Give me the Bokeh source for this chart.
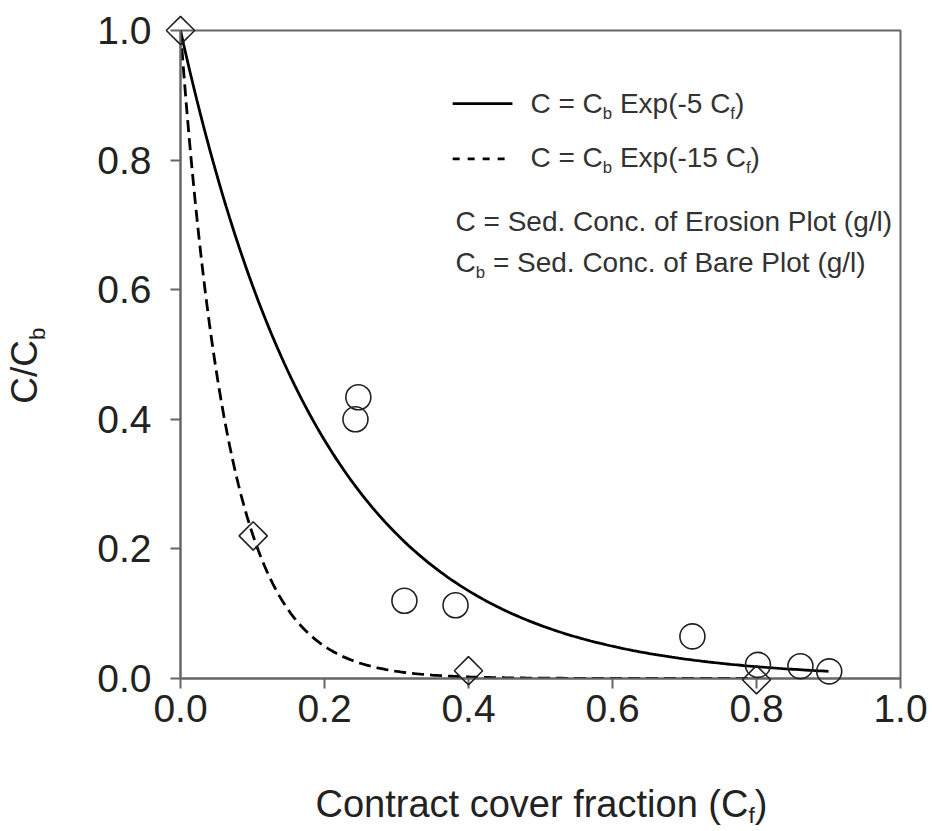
import numpy as np
from bokeh.plotting import figure
from bokeh.models import Range1d, FixedTicker
from bokeh.core.properties import value
from bokeh.embed import file_html
from bokeh.resources import INLINE

# ---------------- data ----------------
circle_x = [0.243, 0.247, 0.311, 0.382, 0.711, 0.802, 0.861, 0.901]
circle_y = [0.400, 0.434, 0.120, 0.113, 0.065, 0.021, 0.019, 0.011]
diamond_x = [0.0, 0.101, 0.400, 0.800]
diamond_y = [1.0, 0.220, 0.012, -0.002]

# model curves from the legend: C = Cb Exp(-k Cf)
k_solid = 5
k_dashed = 15
solid_end = 0.90
dashed_end = 0.80

x_ticks = [0.0, 0.2, 0.4, 0.6, 0.8, 1.0]
y_ticks = [0.0, 0.2, 0.4, 0.6, 0.8, 1.0]
tick_labels = ["0.0", "0.2", "0.4", "0.6", "0.8", "1.0"]

xs_solid = np.linspace(0, solid_end, 200)
ys_solid = np.exp(-k_solid * xs_solid)
xs_dash = np.linspace(0, dashed_end, 200)
ys_dash = np.exp(-k_dashed * xs_dash)

FONT = "Liberation Sans"
AXIS_COL = "#666666"
TEXT_COL = "#222222"

p = figure(width=932, height=831, output_backend="svg", toolbar_location=None,
           x_range=Range1d(0, 1), y_range=Range1d(0, 1),
           min_border_left=180, min_border_right=32, min_border_top=30,
           min_border_bottom=153)
p.background_fill_color = "white"
p.border_fill_color = "white"
p.outline_line_color = AXIS_COL
p.outline_line_width = 2
p.grid.visible = False

for ax, ticks in ((p.xaxis[0], x_ticks), (p.yaxis[0], y_ticks)):
    ax.ticker = FixedTicker(ticks=ticks)
    ax.major_label_overrides = {t: l for t, l in zip(ticks, tick_labels)}
    ax.axis_line_color = AXIS_COL
    ax.axis_line_width = 2
    ax.major_tick_line_color = AXIS_COL
    ax.major_tick_line_width = 2
    ax.major_tick_out = 10
    ax.major_tick_in = 0
    ax.minor_tick_line_color = None
    ax.major_label_text_font = FONT
    ax.major_label_text_font_size = "39px"
    ax.major_label_text_color = TEXT_COL
p.xaxis.major_label_standoff = 6
p.yaxis.major_label_standoff = 19

# curves
p.line(xs_solid, ys_solid, line_color="black", line_width=2.8)
p.line(xs_dash, ys_dash, line_color="black", line_width=2.8, line_dash="12 6")

# markers (not clipped to the frame)
r1 = p.scatter(circle_x, circle_y, marker="circle", size=25, fill_color=None,
               line_color="#222222", line_width=1.6)
r2 = p.scatter(diamond_x, diamond_y, marker="square", size=20, angle=np.pi / 4,
               fill_color=None, line_color="#222222", line_width=1.6)
r1.level = "overlay"
r2.level = "overlay"

# ---------------- rich text helper ----------------
ARIAL = {' ': 278, 'C': 722, '=': 584, 'b': 556, 'E': 667, 'x': 500, 'p': 556,
         '(': 333, '-': 333, '5': 556, '1': 556, 'f': 278, ')': 333, '/': 278,
         'l': 222, 'o': 556, 'n': 556, 't': 278, 'r': 333, 'a': 556, 'c': 500,
         'v': 500, 'e': 556, 'i': 222, 'S': 667, 'd': 556, '.': 278, 'g': 556,
         'B': 667, 'P': 667, 's': 500}
MID = 0.347  # distance from alphabetic baseline to em-box middle, in em


def width(s, size):
    return sum(ARIAL.get(c, 556) for c in s) / 1000.0 * size


def rich(parts, x, y, size, color=TEXT_COL, rotated=False, drop_frac=0.22):
    """x, y: data position of the start of the baseline."""
    cursor = 0.0
    for txt, sub in parts:
        fs = size * 0.6 if sub else size
        drop = size * drop_frac if sub else 0.0
        lead = len(txt) - len(txt.lstrip(" "))
        cursor += width(" " * lead, fs)
        body = txt.strip(" ")
        if rotated:
            xo, yo, ang = drop - MID * fs, -cursor, np.pi / 2
        else:
            xo, yo, ang = cursor, drop - MID * fs, 0.0
        r = p.text(x=[x], y=[y], text=[body], x_offset=xo, y_offset=yo, angle=ang,
                   text_font=value(FONT), text_font_size=value(f"{fs:.1f}px"),
                   text_color=color, text_baseline="middle", text_align="left")
        r.level = "overlay"
        cursor += width(txt.lstrip(" "), fs)


# axis titles
rich([("Contract cover fraction (C", False), ("f", True), (")", False)],
     0.1875, -0.214, 38, drop_frac=0.16)
rich([("C/C", False), ("b", True)], -0.1986, 0.424, 37, rotated=True)

# legend
LEG = 28
leg_col = "#333333"
p.segment(x0=[0.378], y0=[0.887], x1=[0.461], y1=[0.887], line_color="black",
          line_width=2.8)
p.segment(x0=[0.378], y0=[0.802], x1=[0.461], y1=[0.802], line_color="black",
          line_width=2.8, line_dash="7 8")
rich([("C = C", False), ("b", True), (" Exp(-5 C", False), ("f", True), (")", False)],
     0.486, 0.873, LEG, color=leg_col)
rich([("C = C", False), ("b", True), (" Exp(-15 C", False), ("f", True), (")", False)],
     0.486, 0.789, LEG, color=leg_col)
rich([("C = Sed. Conc. of Erosion Plot (g/l)", False)], 0.382, 0.691, LEG, color=leg_col)
rich([("C", False), ("b", True), (" = Sed. Conc. of Bare Plot (g/l)", False)],
     0.382, 0.627, LEG, color=leg_col)

open("out.html", "w").write(file_html(p, INLINE))
